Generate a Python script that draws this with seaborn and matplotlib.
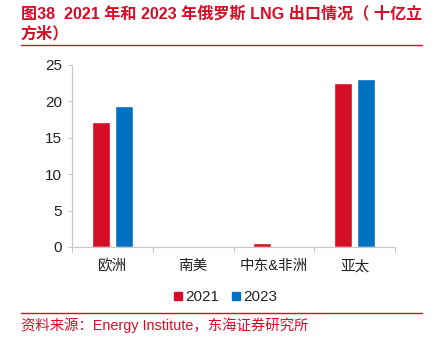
import matplotlib
matplotlib.use("Agg")
import matplotlib.pyplot as plt
import seaborn as sns
import pandas as pd
from matplotlib.lines import Line2D

# LNG exports of Russia by destination region (bcm)
regions = ["欧洲", "南美", "中东&非洲", "亚太"]
years = ["2021", "2023"]
exports_2021 = [17.2, 0.05, 0.55, 22.5]
exports_2023 = [19.4, 0.0, 0.05, 23.1]
y_ticks = [0, 5, 10, 15, 20, 25]

title_line1 = "图38  2021 年和 2023 年俄罗斯 LNG 出口情况（ 十亿立"
title_line2 = "方米）"
source_text = "资料来源：Energy Institute，东海证券研究所"

RED = "#D50D26"
BLUE = "#0070C0"
AXIS_GREY = "#C8C8C8"

sns.set_theme(style="white")
plt.rcParams["font.family"] = ["Liberation Sans", "Noto Sans CJK SC", "DejaVu Sans"]

df = pd.DataFrame({
    "region": regions * 2,
    "year": [years[0]] * len(regions) + [years[1]] * len(regions),
    "value": exports_2021 + exports_2023,
})

fig = plt.figure(figsize=(4.44, 3.42), dpi=100)
ax = fig.add_axes([0.162, 0.278, 0.728, 0.532])

sns.barplot(data=df, x="region", y="value", hue="year",
            palette=[RED, BLUE], width=0.57, gap=0.22,
            saturation=1, legend=False, ax=ax)

ax.set_xlim(-0.5, 3.5)
ax.set_ylim(0, 25)
ax.set_yticks(y_ticks)
ax.set_yticklabels([str(t) for t in y_ticks], fontsize=11, color="#222222")
ax.set_xlabel("")
ax.set_ylabel("")
ax.tick_params(axis="x", length=0, pad=9, labelsize=10.5, labelcolor="#222222")
ax.tick_params(axis="y", left=True, length=3, width=0.8, color=AXIS_GREY, pad=4)

# category boundary ticks on the x axis
for b in [-0.5, 0.5, 1.5, 2.5, 3.5]:
    ax.plot([b, b], [0, -0.7], color=AXIS_GREY, lw=0.8, clip_on=False)

for side in ["top", "right"]:
    ax.spines[side].set_visible(False)
for side in ["left", "bottom"]:
    ax.spines[side].set_color(AXIS_GREY)
    ax.spines[side].set_linewidth(0.9)

handles = [Line2D([0], [0], marker="s", linestyle="", markersize=5.5,
                  markerfacecolor=c, markeredgecolor=c) for c in (RED, BLUE)]
fig.legend(handles, years, loc="center", bbox_to_anchor=(0.506, 0.132),
           ncol=2, frameon=False, fontsize=11, handletextpad=0.05,
           columnspacing=0.7, handlelength=0.8)

fig.text(0.047, 0.962, title_line1, color=RED, fontsize=11.6, fontweight="bold",
         va="center", ha="left")
fig.text(0.047, 0.903, title_line2, color=RED, fontsize=11.6, fontweight="bold",
         va="center", ha="left")
fig.add_artist(Line2D([0.047, 0.951], [0.867, 0.867], color=RED, lw=1.0,
                      transform=fig.transFigure))
fig.add_artist(Line2D([0.047, 0.951], [0.085, 0.085], color=RED, lw=1.0,
                      transform=fig.transFigure))
fig.text(0.047, 0.048, source_text, color=RED, fontsize=10.4,
         va="center", ha="left")

fig.savefig("out.png", dpi=100)
